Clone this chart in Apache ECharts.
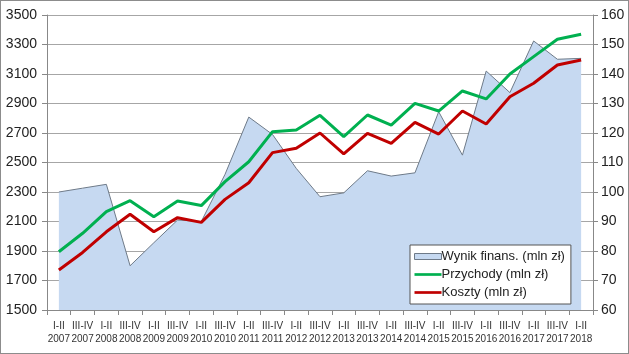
<!DOCTYPE html>
<html>
<head>
  <meta charset="utf-8">
  <title>Wynik finansowy</title>
  <script src="https://cdn.jsdelivr.net/npm/echarts/dist/echarts.min.js"></script>
  <style>
    body { margin: 0; }
    #main {
      width: 627px;
      height: 352px;
      border: 1px solid #8c8c8c;
    }
  </style>
</head>
<body>

<div id="main"></div>

<script>
  const categories = [
    'I-II\n2007', 'III-IV\n2007', 'I-II\n2008', 'III-IV\n2008', 'I-II\n2009', 'III-IV\n2009',
    'I-II\n2010', 'III-IV\n2010', 'I-II\n2011', 'III-IV\n2011', 'I-II\n2012', 'III-IV\n2012',
    'I-II\n2013', 'III-IV\n2013', 'I-II\n2014', 'III-IV\n2014', 'I-II\n2015', 'III-IV\n2015',
    'I-II\n2016', 'III-IV\n2016', 'I-II\n2017', 'III-IV\n2017', 'I-II\n2018'
  ];

  // prawa oś
  const wynik = [
    100, 101.3, 102.6, 75, 82.8, 90.5, 90, 106, 125.4, 119.5, 108, 98.4,
    99.7, 107.2, 105.4, 106.5, 127.2, 112.5, 141, 133.7, 151.2, 145, 145.3
  ];

  // lewa oś
  const przychody = [
    1895, 2020, 2167, 2241, 2133, 2239, 2208, 2370, 2505, 2709, 2720, 2820,
    2676, 2822, 2754, 2901, 2849, 2985, 2931, 3100, 3218, 3335, 3369
  ];

  const koszty = [
    1771, 1890, 2030, 2149, 2031, 2126, 2094, 2250, 2363, 2567, 2596, 2700,
    2558, 2698, 2630, 2772, 2693, 2849, 2761, 2946, 3037, 3161, 3195
  ];

  const font = 'Liberation Sans';
  const lineIcon = 'path://M0,0L30,0L30,3L0,3Z';

  var myChart = echarts.init(document.getElementById('main'));

  var option = {
    animation: false,
    textStyle: { fontFamily: font },
    grid: {
      left: 46,
      right: 35,
      top: 14,
      bottom: 43
    },
    legend: {
      orient: 'vertical',
      left: 409,
      top: 244,
      width: 162,
      backgroundColor: '#fff',
      borderColor: '#555',
      borderWidth: 1,
      borderRadius: 0,
      padding: [5, 6, 5, 4],
      itemGap: 5,
      itemWidth: 27,
      itemHeight: 6,
      textStyle: { fontFamily: font, fontSize: 13, color: '#222', padding: [0, 0, 0, -5] },
      data: [
        {
          name: 'Wynik finans. (mln zł)',
          icon: 'rect',
          itemStyle: { color: '#c6d9f1', borderColor: '#6e7a88', borderWidth: 1 }
        },
        { name: 'Przychody (mln zł)', icon: lineIcon },
        { name: 'Koszty (mln zł)', icon: lineIcon }
      ]
    },
    xAxis: {
      type: 'category',
      data: categories,
      boundaryGap: true,
      axisLine: { lineStyle: { color: '#888' } },
      axisTick: { show: true, length: 5, lineStyle: { color: '#888' } },
      axisLabel: {
        interval: 0,
        fontSize: 10,
        lineHeight: 13,
        color: '#333',
        margin: 10
      }
    },
    yAxis: [
      {
        type: 'value',
        min: 1500,
        max: 3500,
        interval: 200,
        axisLine: { show: true, lineStyle: { color: '#888' } },
        axisTick: { show: true, length: 5, lineStyle: { color: '#888' } },
        axisLabel: { fontSize: 14, color: '#222', margin: 10, formatter: v => String(v) },
        splitLine: { lineStyle: { color: '#a6a6a6' } }
      },
      {
        type: 'value',
        min: 60,
        max: 160,
        interval: 10,
        position: 'right',
        axisLine: { show: true, lineStyle: { color: '#888' } },
        axisTick: { show: true, length: 5, lineStyle: { color: '#888' } },
        axisLabel: { fontSize: 14, color: '#222', margin: 8, formatter: v => String(v) },
        splitLine: { show: false }
      }
    ],
    series: [
      {
        name: 'Wynik finans. (mln zł)',
        type: 'line',
        yAxisIndex: 1,
        data: wynik,
        symbol: 'none',
        lineStyle: { color: '#6e7a88', width: 1 },
        itemStyle: { color: '#c6d9f1' },
        areaStyle: { color: '#c6d9f1', opacity: 1, origin: 'start' }
      },
      {
        name: 'Przychody (mln zł)',
        type: 'line',
        data: przychody,
        symbol: 'none',
        lineStyle: { color: '#00b050', width: 3 },
        itemStyle: { color: '#00b050' }
      },
      {
        name: 'Koszty (mln zł)',
        type: 'line',
        data: koszty,
        symbol: 'none',
        lineStyle: { color: '#c00000', width: 3 },
        itemStyle: { color: '#c00000' }
      }
    ]
  };

  myChart.setOption(option);
</script>
</body>
</html>
